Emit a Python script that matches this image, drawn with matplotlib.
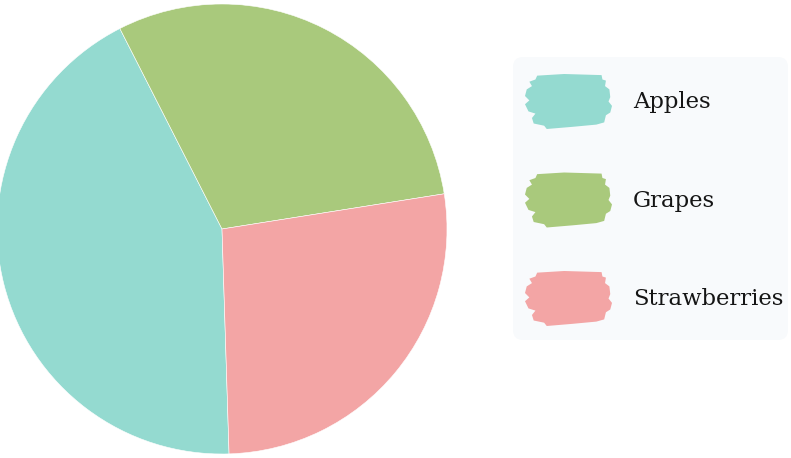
import matplotlib.pyplot as plt
from matplotlib.patches import FancyBboxPatch, Polygon
import numpy as np

categories = ['Apples', 'Grapes', 'Strawberries']
values = [43, 30, 27]
colors = ['#94dad0', '#a9c97c', '#f3a5a5']

W, H = 791, 458
fig = plt.figure(figsize=(W / 100, H / 100), dpi=100)
ax = fig.add_axes([0, 0, 1, 1])
ax.set_xlim(0, W)
ax.set_ylim(0, H)
ax.set_aspect('equal')
ax.axis('off')

# pie, clockwise, apples starting just right of 6 o'clock
ax.pie(values, colors=colors, center=(222, H - 229), radius=225,
       startangle=-88.2, counterclock=False,
       wedgeprops=dict(edgecolor='white', linewidth=0.4))
ax.set_xlim(0, W)
ax.set_ylim(0, H)

# legend panel
box = FancyBboxPatch((513, H - 340), 275, 283,
                     boxstyle='round,pad=0,rounding_size=10',
                     facecolor='#f8fafc', edgecolor='none')
ax.add_patch(box)

# rough brush-stroke outline (unit square)
brush = np.array([
    (0.14, 0.97), (0.45, 1.0), (0.88, 0.98), (0.89, 0.90), (0.93, 0.88),
    (0.92, 0.78), (0.97, 0.72), (0.98, 0.58), (0.96, 0.50), (1.0, 0.42),
    (0.98, 0.30), (0.93, 0.25), (0.91, 0.12), (0.82, 0.08), (0.55, 0.04),
    (0.25, 0.0), (0.22, 0.06), (0.10, 0.10), (0.08, 0.20), (0.12, 0.28),
    (0.04, 0.32), (0.0, 0.45), (0.05, 0.52), (0.0, 0.60), (0.02, 0.72),
    (0.08, 0.78), (0.05, 0.86), (0.12, 0.90)])

for i, (name, c) in enumerate(zip(categories, colors)):
    cy = 102 + i * 98.5
    pts = brush * [87, 55] + [525, H - cy - 27]
    ax.add_patch(Polygon(pts, closed=True, facecolor=c, edgecolor='none'))
    ax.text(633, H - cy, name, fontsize=16.4, family='DejaVu Serif',
            color='#151515', va='center', ha='left')

fig.savefig('out.png', dpi=100, facecolor='white')
